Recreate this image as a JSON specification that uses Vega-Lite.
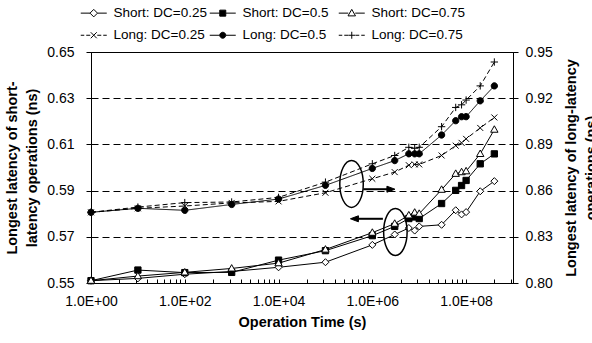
{
  "$schema": "https://vega.github.io/schema/vega-lite/v6.json",
  "width": 422,
  "height": 231,
  "autosize": {"type": "none"},
  "padding": {"left": 91, "top": 52, "right": 79, "bottom": 60},
  "background": "white",
  "config": {
    "font": "Liberation Sans",
    "view": {"stroke": "black", "strokeWidth": 1},
    "axis": {"labelColor": "black", "titleColor": "black", "domainColor": "black", "tickColor": "black", "labelFontSize": 14, "titleFontSize": 14.5, "titleFontWeight": "bold", "labelFlush": false, "labelOverlap": false},
    "point": {"opacity": 1, "size": 49, "stroke": "black", "strokeWidth": 1}
  },
  "datasets": {
    "main": [
      {"series": "Short: DC=0.25", "g": "S", "t": 1, "v": 0.551},
      {"series": "Short: DC=0.25", "g": "S", "t": 10, "v": 0.552},
      {"series": "Short: DC=0.25", "g": "S", "t": 100, "v": 0.5538},
      {"series": "Short: DC=0.25", "g": "S", "t": 1000, "v": 0.555},
      {"series": "Short: DC=0.25", "g": "S", "t": 10000, "v": 0.5568},
      {"series": "Short: DC=0.25", "g": "S", "t": 100000, "v": 0.559},
      {"series": "Short: DC=0.25", "g": "S", "t": 1000000, "v": 0.5665},
      {"series": "Short: DC=0.25", "g": "S", "t": 3000000, "v": 0.571},
      {"series": "Short: DC=0.25", "g": "S", "t": 6000000, "v": 0.5738},
      {"series": "Short: DC=0.25", "g": "S", "t": 8000000, "v": 0.5727},
      {"series": "Short: DC=0.25", "g": "S", "t": 10000000, "v": 0.5745},
      {"series": "Short: DC=0.25", "g": "S", "t": 30000000, "v": 0.5752},
      {"series": "Short: DC=0.25", "g": "S", "t": 60000000, "v": 0.5815},
      {"series": "Short: DC=0.25", "g": "S", "t": 80000000, "v": 0.5797},
      {"series": "Short: DC=0.25", "g": "S", "t": 100000000, "v": 0.5807},
      {"series": "Short: DC=0.25", "g": "S", "t": 200000000, "v": 0.5897},
      {"series": "Short: DC=0.25", "g": "S", "t": 400000000, "v": 0.5941},
      {"series": "Short: DC=0.5", "g": "S", "t": 1, "v": 0.551},
      {"series": "Short: DC=0.5", "g": "S", "t": 10, "v": 0.5556},
      {"series": "Short: DC=0.5", "g": "S", "t": 100, "v": 0.5545},
      {"series": "Short: DC=0.5", "g": "S", "t": 1000, "v": 0.5546},
      {"series": "Short: DC=0.5", "g": "S", "t": 10000, "v": 0.5599},
      {"series": "Short: DC=0.5", "g": "S", "t": 100000, "v": 0.564},
      {"series": "Short: DC=0.5", "g": "S", "t": 1000000, "v": 0.5705},
      {"series": "Short: DC=0.5", "g": "S", "t": 3000000, "v": 0.5745},
      {"series": "Short: DC=0.5", "g": "S", "t": 6000000, "v": 0.5779},
      {"series": "Short: DC=0.5", "g": "S", "t": 8000000, "v": 0.5786},
      {"series": "Short: DC=0.5", "g": "S", "t": 10000000, "v": 0.5779},
      {"series": "Short: DC=0.5", "g": "S", "t": 30000000, "v": 0.5844},
      {"series": "Short: DC=0.5", "g": "S", "t": 60000000, "v": 0.5901},
      {"series": "Short: DC=0.5", "g": "S", "t": 80000000, "v": 0.5922},
      {"series": "Short: DC=0.5", "g": "S", "t": 100000000, "v": 0.5944},
      {"series": "Short: DC=0.5", "g": "S", "t": 200000000, "v": 0.6016},
      {"series": "Short: DC=0.5", "g": "S", "t": 400000000, "v": 0.6059},
      {"series": "Short: DC=0.75", "g": "S", "t": 1, "v": 0.551},
      {"series": "Short: DC=0.75", "g": "S", "t": 10, "v": 0.553},
      {"series": "Short: DC=0.75", "g": "S", "t": 100, "v": 0.5546},
      {"series": "Short: DC=0.75", "g": "S", "t": 1000, "v": 0.5563},
      {"series": "Short: DC=0.75", "g": "S", "t": 10000, "v": 0.5586},
      {"series": "Short: DC=0.75", "g": "S", "t": 100000, "v": 0.5645},
      {"series": "Short: DC=0.75", "g": "S", "t": 1000000, "v": 0.5718},
      {"series": "Short: DC=0.75", "g": "S", "t": 3000000, "v": 0.5757},
      {"series": "Short: DC=0.75", "g": "S", "t": 6000000, "v": 0.5793},
      {"series": "Short: DC=0.75", "g": "S", "t": 8000000, "v": 0.5805},
      {"series": "Short: DC=0.75", "g": "S", "t": 10000000, "v": 0.58},
      {"series": "Short: DC=0.75", "g": "S", "t": 30000000, "v": 0.5904},
      {"series": "Short: DC=0.75", "g": "S", "t": 60000000, "v": 0.5973},
      {"series": "Short: DC=0.75", "g": "S", "t": 80000000, "v": 0.598},
      {"series": "Short: DC=0.75", "g": "S", "t": 100000000, "v": 0.5984},
      {"series": "Short: DC=0.75", "g": "S", "t": 200000000, "v": 0.6059},
      {"series": "Short: DC=0.75", "g": "S", "t": 400000000, "v": 0.6164},
      {"series": "Long: DC=0.25", "g": "L", "t": 1, "v": 0.8459},
      {"series": "Long: DC=0.25", "g": "L", "t": 10, "v": 0.8485},
      {"series": "Long: DC=0.25", "g": "L", "t": 100, "v": 0.85},
      {"series": "Long: DC=0.25", "g": "L", "t": 1000, "v": 0.852},
      {"series": "Long: DC=0.25", "g": "L", "t": 10000, "v": 0.853},
      {"series": "Long: DC=0.25", "g": "L", "t": 100000, "v": 0.8586},
      {"series": "Long: DC=0.25", "g": "L", "t": 1000000, "v": 0.8677},
      {"series": "Long: DC=0.25", "g": "L", "t": 3000000, "v": 0.872},
      {"series": "Long: DC=0.25", "g": "L", "t": 6000000, "v": 0.8765},
      {"series": "Long: DC=0.25", "g": "L", "t": 8000000, "v": 0.877},
      {"series": "Long: DC=0.25", "g": "L", "t": 10000000, "v": 0.877},
      {"series": "Long: DC=0.25", "g": "L", "t": 30000000, "v": 0.8828},
      {"series": "Long: DC=0.25", "g": "L", "t": 60000000, "v": 0.8892},
      {"series": "Long: DC=0.25", "g": "L", "t": 80000000, "v": 0.891},
      {"series": "Long: DC=0.25", "g": "L", "t": 100000000, "v": 0.8936},
      {"series": "Long: DC=0.25", "g": "L", "t": 200000000, "v": 0.9007},
      {"series": "Long: DC=0.25", "g": "L", "t": 400000000, "v": 0.9075},
      {"series": "Long: DC=0.5", "g": "L", "t": 1, "v": 0.8459},
      {"series": "Long: DC=0.5", "g": "L", "t": 10, "v": 0.8485},
      {"series": "Long: DC=0.5", "g": "L", "t": 100, "v": 0.8472},
      {"series": "Long: DC=0.5", "g": "L", "t": 1000, "v": 0.851},
      {"series": "Long: DC=0.5", "g": "L", "t": 10000, "v": 0.8545},
      {"series": "Long: DC=0.5", "g": "L", "t": 100000, "v": 0.8634},
      {"series": "Long: DC=0.5", "g": "L", "t": 1000000, "v": 0.8744},
      {"series": "Long: DC=0.5", "g": "L", "t": 3000000, "v": 0.8795},
      {"series": "Long: DC=0.5", "g": "L", "t": 6000000, "v": 0.8839},
      {"series": "Long: DC=0.5", "g": "L", "t": 8000000, "v": 0.8839},
      {"series": "Long: DC=0.5", "g": "L", "t": 10000000, "v": 0.8839},
      {"series": "Long: DC=0.5", "g": "L", "t": 30000000, "v": 0.8961},
      {"series": "Long: DC=0.5", "g": "L", "t": 60000000, "v": 0.9054},
      {"series": "Long: DC=0.5", "g": "L", "t": 80000000, "v": 0.908},
      {"series": "Long: DC=0.5", "g": "L", "t": 100000000, "v": 0.908},
      {"series": "Long: DC=0.5", "g": "L", "t": 200000000, "v": 0.9183},
      {"series": "Long: DC=0.5", "g": "L", "t": 400000000, "v": 0.928},
      {"series": "Long: DC=0.75", "g": "L", "t": 1, "v": 0.8459},
      {"series": "Long: DC=0.75", "g": "L", "t": 10, "v": 0.8493},
      {"series": "Long: DC=0.75", "g": "L", "t": 100, "v": 0.8522},
      {"series": "Long: DC=0.75", "g": "L", "t": 1000, "v": 0.8526},
      {"series": "Long: DC=0.75", "g": "L", "t": 10000, "v": 0.8556},
      {"series": "Long: DC=0.75", "g": "L", "t": 100000, "v": 0.8655},
      {"series": "Long: DC=0.75", "g": "L", "t": 1000000, "v": 0.8774},
      {"series": "Long: DC=0.75", "g": "L", "t": 3000000, "v": 0.8828},
      {"series": "Long: DC=0.75", "g": "L", "t": 6000000, "v": 0.8881},
      {"series": "Long: DC=0.75", "g": "L", "t": 8000000, "v": 0.8875},
      {"series": "Long: DC=0.75", "g": "L", "t": 10000000, "v": 0.8881},
      {"series": "Long: DC=0.75", "g": "L", "t": 30000000, "v": 0.9015},
      {"series": "Long: DC=0.75", "g": "L", "t": 60000000, "v": 0.914},
      {"series": "Long: DC=0.75", "g": "L", "t": 80000000, "v": 0.9157},
      {"series": "Long: DC=0.75", "g": "L", "t": 100000000, "v": 0.9188},
      {"series": "Long: DC=0.75", "g": "L", "t": 200000000, "v": 0.928},
      {"series": "Long: DC=0.75", "g": "L", "t": 400000000, "v": 0.9435}
    ],
    "ann": [
      {"kind": "ellipse", "t": 360000, "v": 0.5929},
      {"kind": "ellipse", "t": 3100000, "v": 0.5721},
      {"kind": "arrow", "t": 640000, "t2": 2490000, "v": 0.5906, "dir": "right"},
      {"kind": "arrow", "t": 415000, "t2": 1680000, "v": 0.5778, "dir": "left"},
      {"kind": "head", "t": 2490000, "v": 0.5906, "dir": "right"},
      {"kind": "head", "t": 415000, "v": 0.5778, "dir": "left"}
    ]
  },
  "layer": [
    {
      "layer": [
        {
          "data": {"name": "main"},
          "transform": [{"filter": "datum.g === 'S'"}],
          "mark": {"type": "line", "strokeWidth": 1, "color": "black"},
          "encoding": {
            "x": {"field": "t", "type": "quantitative", "scale": {"type": "log", "domain": [1, 1000000000], "nice": false},
              "axis": {"title": "Operation Time (s)", "grid": false, "values": [1,4,9,16,25,36,49,64,81,100,400,900,1600,2500,3600,4900,6400,8100,10000,40000,90000,160000,250000,360000,490000,640000,810000,1000000,4000000,9000000,16000000,25000000,36000000,49000000,64000000,81000000,100000000,400000000,900000000],
                "labelExpr": "abs(log(datum.value)/LN10/2 - round(log(datum.value)/LN10/2)) < 0.0001 ? '1.0E+' + (round(log(datum.value)/LN10) < 10 ? '0' : '') + round(log(datum.value)/LN10) : ''",
                "tickSize": -4, "labelPadding": 15, "titlePadding": 7}},
            "y": {"field": "v", "type": "quantitative", "scale": {"domain": [0.55, 0.65], "nice": false, "zero": false},
              "axis": {"orient": "left", "values": [0.55,0.57,0.59,0.61,0.63,0.65], "format": ".2f", "grid": true, "gridDash": [7,4], "gridColor": "black", "gridOpacity": 1, "tickSize": 5, "labelPadding": 12,
                "title": ["Longest latency of short-", "latency operations (ns)"], "titleLineHeight": 20, "titlePadding": 7}},
            "detail": {"field": "series"}
          }
        },
        {
          "data": {"name": "main"},
          "transform": [{"filter": "datum.series === 'Short: DC=0.25'"}],
          "mark": {"type": "point", "shape": "M0,-1L1,0L0,1L-1,0Z", "fill": "white", "filled": true},
          "encoding": {"x": {"field": "t", "type": "quantitative"}, "y": {"field": "v", "type": "quantitative"}}
        },
        {
          "data": {"name": "main"},
          "transform": [{"filter": "datum.series === 'Short: DC=0.5'"}],
          "mark": {"type": "point", "shape": "M-0.9,-0.9H0.9V0.9H-0.9Z", "fill": "black", "filled": true},
          "encoding": {"x": {"field": "t", "type": "quantitative"}, "y": {"field": "v", "type": "quantitative"}}
        },
        {
          "data": {"name": "main"},
          "transform": [{"filter": "datum.series === 'Short: DC=0.75'"}],
          "mark": {"type": "point", "shape": "M0,-1.1L1.05,0.75L-1.05,0.75Z", "fill": "white", "filled": true},
          "encoding": {"x": {"field": "t", "type": "quantitative"}, "y": {"field": "v", "type": "quantitative"}}
        },
        {
          "data": {"name": "ann"},
          "transform": [{"filter": "datum.kind === 'ellipse'"}],
          "mark": {"type": "point", "shape": "M0,-1A0.5,1 0 1,1 0,1A0.5,1 0 1,1 0,-1Z", "size": 2209, "stroke": "black", "strokeWidth": 1.5, "filled": false},
          "encoding": {"x": {"field": "t", "type": "quantitative"}, "y": {"field": "v", "type": "quantitative"}}
        },
        {
          "data": {"name": "ann"},
          "transform": [{"filter": "datum.kind === 'arrow'"}],
          "mark": {"type": "rule", "strokeWidth": 2, "color": "black"},
          "encoding": {"x": {"field": "t", "type": "quantitative"}, "x2": {"field": "t2"}, "y": {"field": "v", "type": "quantitative"}}
        },
        {
          "data": {"name": "ann"},
          "transform": [{"filter": "datum.kind === 'head' && datum.dir === 'right'"}],
          "mark": {"type": "point", "shape": "M1,0L-1,-0.75L-1,0.75Z", "size": 64, "fill": "black", "filled": true},
          "encoding": {"x": {"field": "t", "type": "quantitative"}, "y": {"field": "v", "type": "quantitative"}}
        },
        {
          "data": {"name": "ann"},
          "transform": [{"filter": "datum.kind === 'head' && datum.dir === 'left'"}],
          "mark": {"type": "point", "shape": "M-1,0L1,-0.75L1,0.75Z", "size": 64, "fill": "black", "filled": true},
          "encoding": {"x": {"field": "t", "type": "quantitative"}, "y": {"field": "v", "type": "quantitative"}}
        },
        {
          "data": {"name": "main"},
          "transform": [{"filter": "false"}],
          "mark": {"type": "point", "filled": false, "stroke": "black", "strokeWidth": 1, "opacity": 1, "size": 100},
          "encoding": {
            "x": {"field": "t", "type": "quantitative"},
            "y": {"field": "v", "type": "quantitative"},
            "shape": {"field": "series", "type": "nominal",
              "scale": {"domain": ["Short: DC=0.25","Short: DC=0.5","Short: DC=0.75","Long: DC=0.25","Long: DC=0.5","Long: DC=0.75"],
                "range": [
                  "M-2.6,0H-0.75M0.75,0H2.6M0,-0.75L0.75,0L0,0.75L-0.75,0Z",
                  "M-2.6,0H-0.6M0.6,0H2.6M-0.6,-0.6H0.6V0.6H-0.6Z",
                  "M-2.6,0H-0.7M0.7,0H2.6M0,-0.75L0.75,0.55L-0.75,0.55Z",
                  "M-2.6,0H-1.9M-1.5,0H-0.7M0.7,0H1.5M1.9,0H2.6M-0.6,-0.6L0.6,0.6M-0.6,0.6L0.6,-0.6",
                  "M-2.6,0H-0.6M0.6,0H2.6M-0.6,0A0.6,0.6 0 1,0 0.6,0A0.6,0.6 0 1,0 -0.6,0Z",
                  "M-2.6,0H-1.9M-1.5,0H-0.75M0.75,0H1.5M1.9,0H2.6M-0.7,0H0.7M0,-0.7V0.7"
                ]},
              "legend": {"orient": "none", "legendX": -4, "legendY": -46, "direction": "horizontal", "columns": 3, "title": null, "symbolSize": 100, "labelFontSize": 13.5, "labelColor": "black", "labelOffset": 13, "columnPadding": 0, "rowPadding": 7.5, "gridAlign": "all"}},
            "fill": {"field": "series", "type": "nominal",
              "scale": {"domain": ["Short: DC=0.25","Short: DC=0.5","Short: DC=0.75","Long: DC=0.25","Long: DC=0.5","Long: DC=0.75"],
                "range": ["white","black","white","black","black","black"]}}
          }
        }
      ]
    },
    {
      "layer": [
        {
          "data": {"name": "main"},
          "transform": [{"filter": "datum.g === 'L'"}],
          "mark": {"type": "line", "strokeWidth": 1, "color": "black"},
          "encoding": {
            "x": {"field": "t", "type": "quantitative"},
            "y": {"field": "v", "type": "quantitative", "scale": {"domain": [0.8, 0.95], "nice": false, "zero": false},
              "axis": {"orient": "right", "values": [0.8,0.83,0.86,0.89,0.92,0.95], "format": ".2f", "grid": false, "tickSize": 5, "labelPadding": 7,
                "title": ["Longest latency of long-latency", "operations (ns)"], "titleAngle": 270, "titleBaseline": "top", "titleAlign": "center", "titleLineHeight": 20, "titleX": 51, "titleY": 115.5}},
            "detail": {"field": "series"},
            "strokeDash": {"field": "series", "type": "nominal", "scale": {"domain": ["Long: DC=0.25","Long: DC=0.5","Long: DC=0.75"], "range": [[5,3],[1,0],[5,3]]}, "legend": null}
          }
        },
        {
          "data": {"name": "main"},
          "transform": [{"filter": "datum.series === 'Long: DC=0.25'"}],
          "mark": {"type": "point", "shape": "M-0.85,-0.85L0.85,0.85M-0.85,0.85L0.85,-0.85", "filled": false},
          "encoding": {"x": {"field": "t", "type": "quantitative"}, "y": {"field": "v", "type": "quantitative"}}
        },
        {
          "data": {"name": "main"},
          "transform": [{"filter": "datum.series === 'Long: DC=0.5'"}],
          "mark": {"type": "point", "shape": "M-0.9,0A0.9,0.9 0 1,0 0.9,0A0.9,0.9 0 1,0 -0.9,0Z", "fill": "black", "filled": true},
          "encoding": {"x": {"field": "t", "type": "quantitative"}, "y": {"field": "v", "type": "quantitative"}}
        },
        {
          "data": {"name": "main"},
          "transform": [{"filter": "datum.series === 'Long: DC=0.75'"}],
          "mark": {"type": "point", "shape": "M-1.05,0H1.05M0,-1.05V1.05", "filled": false},
          "encoding": {"x": {"field": "t", "type": "quantitative"}, "y": {"field": "v", "type": "quantitative"}}
        }
      ]
    }
  ],
  "resolve": {"scale": {"y": "independent"}}
}
